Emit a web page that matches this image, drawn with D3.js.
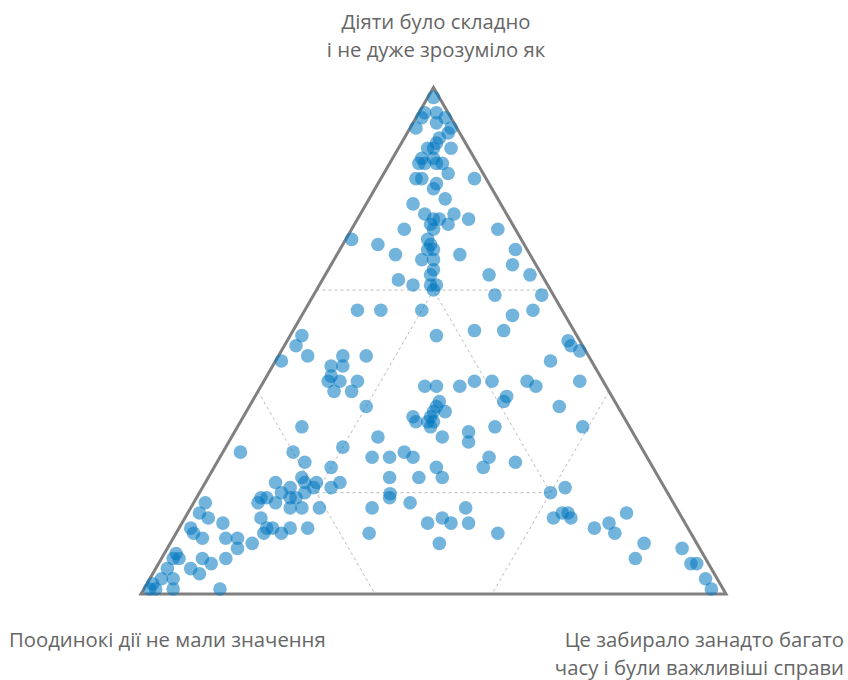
<!DOCTYPE html>
<html>
<head>
<meta charset="utf-8">
<script src="https://cdn.jsdelivr.net/npm/d3@7"></script>
<style>
  html, body { margin: 0; padding: 0; background: #fff; }
  svg { display: block; }
  text { font-family: "Open Sans", "Noto Sans", sans-serif; fill: #666; }
</style>
</head>
<body>
<svg id="chart" width="848" height="680"></svg>
<script>
// Axis labels (three corners of the ternary plot)
const topLabel = ["Діяти було складно", "і не дуже зрозуміло як"];
const leftLabel = ["Поодинокі дії не мали значення"];
const rightLabel = ["Це забирало занадто багато", "часу і були важливіші справи"];

// Shares in percent: a = top corner, b = left corner, c = right corner
const shareTop = [98,95,95,94,94,92,93,92,91,90,89,88,88,88,86,86,85,85,85,85,83,82,82,82,81,80,77,78,75,75,74,74,73,74,72,73,72,70,69,68,68,67,67,66,66,64,63,62,63,61,61,61,60,70,69,72,68,65,63,59,59,56,56,56,55,56,52,52,51,51,49,47,46,47,47,45,45,43,42,42,42,40,40,37,50,49,48,46,41,41,41,42,42,42,41,39,38,37,42,38,37,36,34,34,35,32,33,33,33,31,34,31,29,30,33,36,35,27,27,28,27,25,23,23,23,27,25,26,25,22,21,20,19,18,17,14,15,14,17,14,12,10,12,20,21,15,16,16,15,13,14,12,16,10,7,9,6,6,3,1,28,28,26,22,21,22,21,19,19,20,19,19,17,17,18,16,15,14,15,13,13,12,13,13,13,12,11,11,11,9,10,7,8,7,7,6,5,4,5,3,3,2,1,1,1,22,20,18,17,12,23,18,1,7];
const shareLeft = [1,4,2,5,1,7,3,1,2,4,5,3,7,6,9,7,9,10,7,6,6,2,12,11,9,10,15,9,9,14,13,12,11,7,19,14,14,16,16,17,16,23,12,19,17,18,19,25,9,23,20,19,20,29,25,3,2,4,2,10,2,24,35,31,9,5,17,12,24,47,49,48,53,42,38,43,45,46,47,45,42,47,44,43,2,2,1,7,31,29,25,22,19,13,12,18,19,10,4,30,31,32,33,34,36,28,23,8,34,33,36,44,51,29,56,30,33,47,44,41,40,37,37,46,41,27,29,23,55,55,57,48,48,45,52,44,41,40,36,37,55,44,33,20,17,22,20,19,19,16,13,13,9,9,12,3,3,2,2,2,69,60,59,66,64,61,60,70,69,66,65,64,66,61,80,82,81,79,72,72,71,70,68,65,85,85,84,80,78,79,76,82,90,91,86,85,89,88,93,95,93,97,97,94,86,59,62,68,64,73,61,71,98,90];
const shareRight = [1,1,3,1,5,1,4,7,7,6,6,9,5,6,5,7,6,5,8,9,11,16,6,7,10,10,8,13,16,11,13,14,16,19,9,13,14,14,15,15,16,10,21,15,17,18,18,13,28,16,19,20,20,1,6,25,30,31,35,31,39,20,9,13,36,39,31,36,25,2,2,5,1,11,15,12,10,11,11,13,16,13,16,20,48,49,51,47,28,30,34,36,39,45,47,43,43,53,54,32,32,32,33,32,29,40,44,59,33,36,30,25,20,41,11,34,32,26,29,31,33,38,40,31,36,46,46,51,20,23,22,33,33,37,31,42,44,46,47,49,33,46,55,60,62,63,64,65,66,71,73,75,75,81,81,88,91,92,95,97,3,12,15,12,15,17,19,11,12,14,16,17,17,22,2,2,4,7,13,15,16,18,19,22,2,3,5,9,11,12,14,11,2,2,7,9,6,8,2,2,4,1,2,5,13,19,18,14,19,15,16,11,1,3];

const svg = d3.select("#chart");

// Scales: horizontal position along the base and vertical height of the triangle
const xScale = d3.scaleLinear().domain([0, 100]).range([141, 726]);
const yScale = d3.scaleLinear().domain([0, 100]).range([594, 87.4]);
function project(a, b, c) {
  const s = a + b + c;
  const A = a / s * 100, C = c / s * 100;
  return [xScale(C + A / 2), yScale(A)];
}

// Grid: corner cut lines at 60% and the inner triangle at 20%
const gridSegs = [
  [[60,40,0],[60,0,40]],
  [[40,60,0],[0,60,40]],
  [[40,0,60],[0,40,60]],
  [[60,20,20],[20,60,20]],
  [[20,60,20],[20,20,60]],
  [[20,20,60],[60,20,20]]
];
svg.append("g").selectAll("line").data(gridSegs).join("line")
  .attr("x1", d => project(...d[0])[0]).attr("y1", d => project(...d[0])[1])
  .attr("x2", d => project(...d[1])[0]).attr("y2", d => project(...d[1])[1])
  .attr("stroke", "#bdbdbd").attr("stroke-width", 1).attr("stroke-dasharray", "3,3");

// Triangle outline
const corners = [[100,0,0],[0,100,0],[0,0,100]].map(d => project(...d));
svg.append("path")
  .attr("d", d3.line()(corners) + "Z")
  .attr("fill", "none").attr("stroke", "#808080").attr("stroke-width", 3)
  .attr("stroke-linejoin", "miter");

// Points
const pts = shareTop.map((a, i) => ({a, b: shareLeft[i], c: shareRight[i]}));
svg.append("g").selectAll("circle").data(pts).join("circle")
  .attr("cx", d => project(d.a, d.b, d.c)[0])
  .attr("cy", d => project(d.a, d.b, d.c)[1])
  .attr("r", 6.8)
  .attr("fill", "rgb(0,118,192)")
  .attr("fill-opacity", 0.55);

// Labels
const fs = 20.3;
svg.append("text").attr("text-anchor", "middle").attr("font-size", fs)
  .selectAll("tspan").data(topLabel).join("tspan")
  .attr("x", 436).attr("y", (d, i) => 29 + i * 28).text(d => d);
svg.append("text").attr("text-anchor", "start").attr("font-size", fs)
  .selectAll("tspan").data(leftLabel).join("tspan")
  .attr("x", 9).attr("y", (d, i) => 647 + i * 28).text(d => d);
svg.append("text").attr("text-anchor", "end").attr("font-size", fs)
  .selectAll("tspan").data(rightLabel).join("tspan")
  .attr("x", 844).attr("y", (d, i) => 647 + i * 28).text(d => d);
</script>
</body>
</html>
